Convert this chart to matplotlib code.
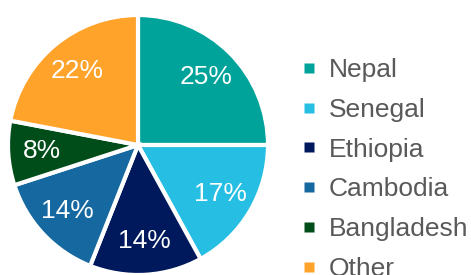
import matplotlib
matplotlib.use("Agg")
import matplotlib.pyplot as plt
from matplotlib.lines import Line2D

labels = ["Nepal", "Senegal", "Ethiopia", "Cambodia", "Bangladesh", "Other"]
shares = [25, 17, 14, 14, 8, 22]
colors = ["#00A39A", "#27BEE3", "#00195C", "#1569A0", "#004D19", "#FFA32A"]

plt.rcParams["font.family"] = ["Liberation Sans", "DejaVu Sans"]

fig = plt.figure(figsize=(4.71, 2.75), dpi=100)
ax = fig.add_axes([8 / 471, 0.0, 260 / 471, 260 / 275])

wedges, texts, autotexts = ax.pie(
    shares, colors=colors, startangle=90, counterclock=False,
    autopct="%d%%", pctdistance=0.74, radius=1,
    wedgeprops={"edgecolor": "white", "linewidth": 3},
    textprops={"color": "white", "fontsize": 19})
ax.set_xlim(-1, 1)
ax.set_ylim(-1, 1)
ax.set_aspect("equal")
for w in wedges:
    w.set_clip_on(False)

handles = [Line2D([], [], linestyle="none", marker="s", markersize=6.5,
                  markerfacecolor=c, markeredgecolor="none") for c in colors]
fig.legend(handles, labels, loc="upper left", bbox_to_anchor=(302 / 471, 1 - 58 / 275),
           frameon=False, fontsize=19, labelcolor="#595959",
           handlelength=0.55, handletextpad=0.45, labelspacing=0.6,
           borderpad=0, borderaxespad=0)

fig.savefig("out.png", dpi=100)
